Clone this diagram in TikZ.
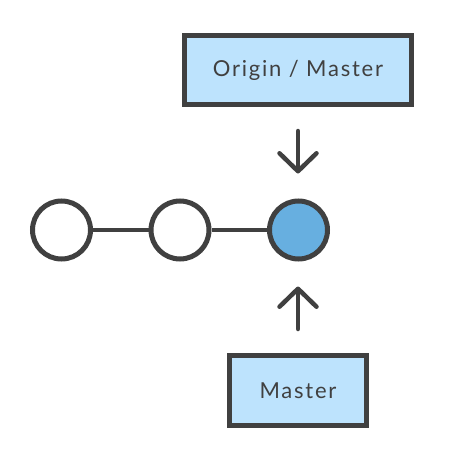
\documentclass[tikz,border=0pt]{standalone}
\usepackage{fontspec}
\setmainfont{Lato}[LetterSpace=8]
\usetikzlibrary{arrows.meta}
\definecolor{ink}{HTML}{404040}
\definecolor{boxblue}{HTML}{BDE3FD}
\definecolor{headblue}{HTML}{67AFE0}
\tikzset{
  label box/.style={draw=ink, line width=5pt, fill=boxblue, inner sep=0pt,
    text=ink, font=\fontsize{22}{26}\selectfont},
  commit/.style={circle, draw=ink, line width=5pt, fill=white, inner sep=0pt, minimum size=58pt},
  head/.style={commit, fill=headblue},
  link/.style={draw=ink, line width=4pt},
  pointer/.style={draw=ink, line width=4.5pt, line cap=round,
    -{Straight Barb[length=18pt, width=37pt, round]}}
}
\begin{document}
\begin{tikzpicture}[x=1pt,y=1pt]
\useasboundingbox (0,0) rectangle (467,-461);
\node[label box, minimum width=227pt, minimum height=69pt] (origin) at (298,-70) {Origin / Master};
\node[label box, minimum width=137pt, minimum height=70pt] (master) at (298,-390.5) {Master};
\node[commit] (c1) at (61.5,-230) {};
\node[commit] (c2) at (180,-230) {};
\node[head] (c3) at (298.5,-230) {};
\draw[link] (c1) -- (c2);
\draw[link] (c2) -- (c3);
\draw[pointer, shorten <=24pt, shorten >=25pt] (origin.south) -- (origin.south |- c3.north);
\draw[pointer, shorten <=24pt, shorten >=25pt] (master.north) -- (master.north |- c3.south);
\end{tikzpicture}
\end{document}
